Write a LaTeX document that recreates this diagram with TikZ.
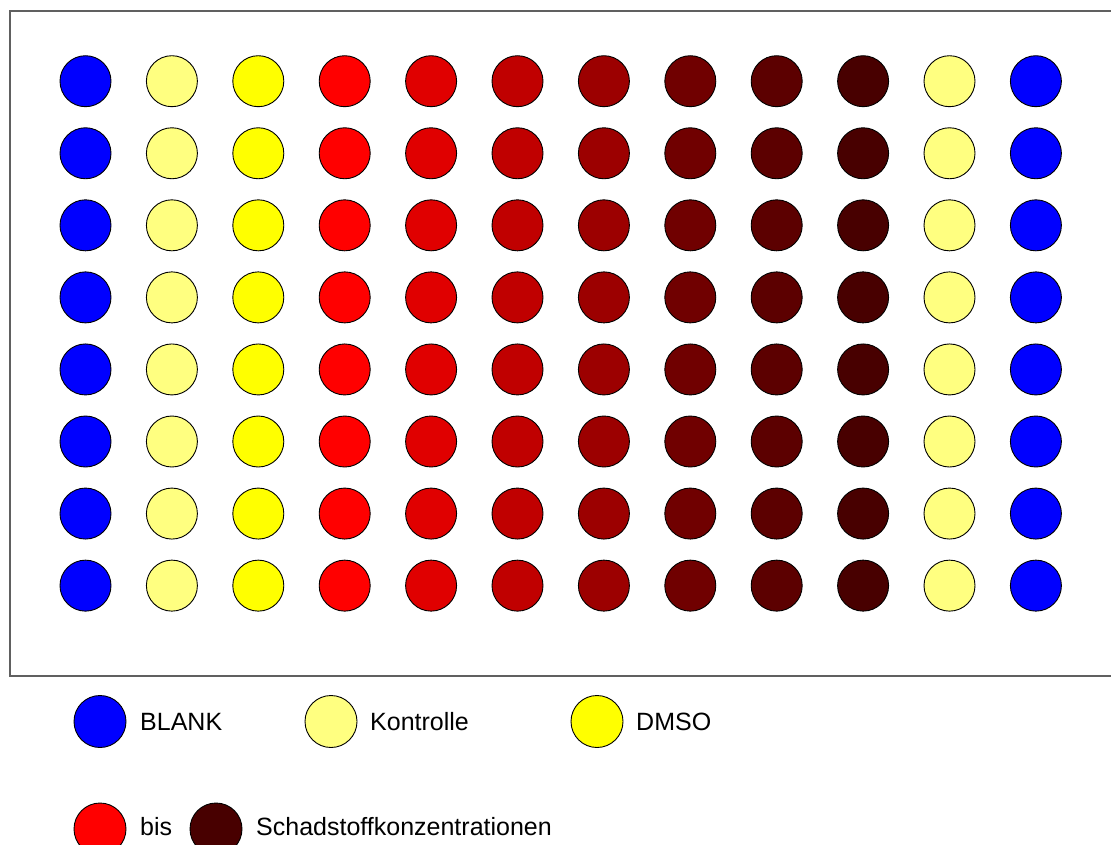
\documentclass[tikz,border=0pt]{standalone}
\usepackage{fontspec}
\setmainfont{Liberation Sans}
\definecolor{cBlank}{HTML}{0000FF}
\definecolor{cKontr}{HTML}{FFFF80}
\definecolor{cDmso}{HTML}{FFFF00}
\definecolor{cA}{HTML}{FF0000}
\definecolor{cB}{HTML}{E00000}
\definecolor{cC}{HTML}{C00000}
\definecolor{cD}{HTML}{9C0000}
\definecolor{cE}{HTML}{700000}
\definecolor{cF}{HTML}{5C0000}
\definecolor{cG}{HTML}{480000}
\definecolor{frameGray}{HTML}{606060}
\tikzset{
  well/.style={circle, draw=black, line width=0.9pt, minimum size=51pt, inner sep=0pt},
  legwell/.style={circle, draw=black, line width=0.9pt, minimum size=52pt, inner sep=0pt},
  legtext/.style={anchor=west, inner sep=0pt, font=\fontsize{25pt}{29pt}\selectfont},
}
\begin{document}
\begin{tikzpicture}[x=1pt,y=-1pt]
\useasboundingbox (0,0) rectangle (1111,844);
\fill[white] (0,0) rectangle (1111,844);
% plate frame (open at right)
\draw[frameGray, line width=1.5pt] (1111,11) -- (10,11) -- (10,676) -- (1111,676);
% wells
\foreach \c/\col in {0/cBlank,1/cKontr,2/cDmso,3/cA,4/cB,5/cC,6/cD,7/cE,8/cF,9/cG,10/cKontr,11/cBlank}{
  \foreach \r in {0,...,7}{
    \node[well, fill=\col] (w\r-\c) at ({85.5+\c*86.4},{81.2+\r*72.06}) {};
  }
}
% legend
\node[legwell, fill=cBlank] (lBlank) at (100,721.5) {};
\node[legtext] (tBlank) at (140,722) {BLANK};
\node[legwell, fill=cKontr] (lKontr) at (331,721.5) {};
\node[legtext] (tKontr) at (370,722) {Kontrolle};
\node[legwell, fill=cDmso] (lDmso) at (597,721.5) {};
\node[legtext] (tDmso) at (636,722) {DMSO};
\node[legwell, fill=cA] (lRed) at (100,829) {};
\node[legtext] (tBis) at (140,827) {bis};
\node[legwell, fill=cG] (lDark) at (216,829) {};
\node[legtext] (tSchad) at (256,827) {Schadstoffkonzentrationen};
\end{tikzpicture}
\end{document}
